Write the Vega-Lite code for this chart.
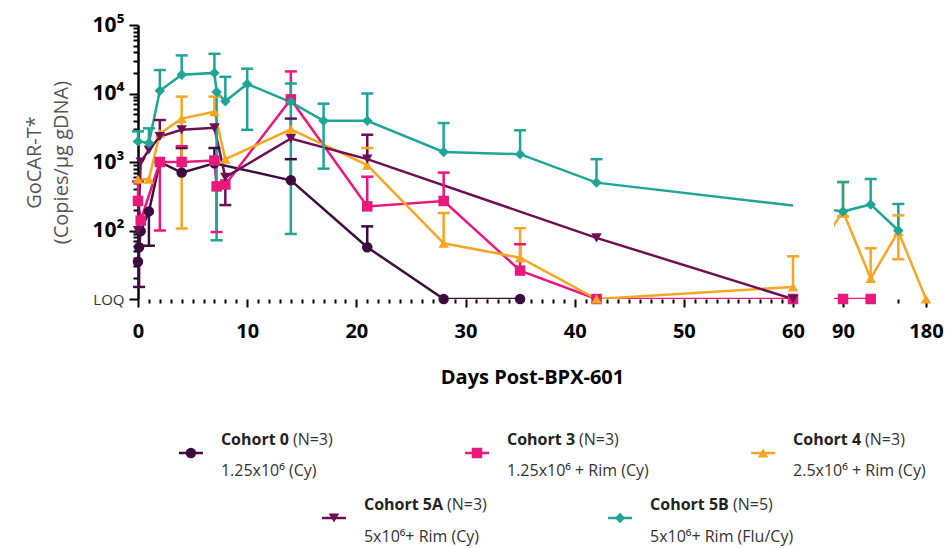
{
  "$schema": "https://vega.github.io/schema/vega-lite/v6.json",
  "padding": {"left": 24, "top": 14, "right": 0, "bottom": 8},
  "background": "white",
  "config": {"font": "Open Sans", "view": {"stroke": null}},
  "datasets": {
    "series": [
      {"cohort": "Cohort 0", "day": 0, "value": 35},
      {"cohort": "Cohort 0", "day": 0.1, "value": 57, "lo": 15, "hi": 95},
      {"cohort": "Cohort 0", "day": 0.25, "value": 98},
      {"cohort": "Cohort 0", "day": 1, "value": 190, "lo": 60},
      {"cohort": "Cohort 0", "day": 2, "value": 1000},
      {"cohort": "Cohort 0", "day": 4, "value": 700, "hi": 1600},
      {"cohort": "Cohort 0", "day": 7, "value": 960, "hi": 1600},
      {"cohort": "Cohort 0", "day": 14, "value": 540, "hi": 1100},
      {"cohort": "Cohort 0", "day": 21, "value": 57, "hi": 115},
      {"cohort": "Cohort 0", "day": 28, "value": 10},
      {"cohort": "Cohort 0", "day": 35, "value": 10},
      {"cohort": "Cohort 3", "day": 0, "value": 270, "hi": 520},
      {"cohort": "Cohort 3", "day": 0.25, "value": 140},
      {"cohort": "Cohort 3", "day": 2, "value": 1000, "lo": 100},
      {"cohort": "Cohort 3", "day": 4, "value": 1000, "hi": 1700},
      {"cohort": "Cohort 3", "day": 7, "value": 1050},
      {"cohort": "Cohort 3", "day": 7.2, "value": 440, "lo": 95},
      {"cohort": "Cohort 3", "day": 8, "value": 470},
      {"cohort": "Cohort 3", "day": 14, "value": 8200, "hi": 21000},
      {"cohort": "Cohort 3", "day": 21, "value": 225, "hi": 610},
      {"cohort": "Cohort 3", "day": 28, "value": 270, "hi": 700},
      {"cohort": "Cohort 3", "day": 35, "value": 26, "hi": 63},
      {"cohort": "Cohort 3", "day": 42, "value": 10},
      {"cohort": "Cohort 3", "day": 60, "value": 10},
      {"cohort": "Cohort 3", "day": 90, "value": 10},
      {"cohort": "Cohort 3", "day": 120, "value": 10},
      {"cohort": "Cohort 4", "day": 0, "value": 560},
      {"cohort": "Cohort 4", "day": 1, "value": 560},
      {"cohort": "Cohort 4", "day": 2, "value": 2600},
      {"cohort": "Cohort 4", "day": 4, "value": 4300, "lo": 107, "hi": 9000},
      {"cohort": "Cohort 4", "day": 7, "value": 5400, "hi": 9000},
      {"cohort": "Cohort 4", "day": 8, "value": 1100},
      {"cohort": "Cohort 4", "day": 14, "value": 3000},
      {"cohort": "Cohort 4", "day": 21, "value": 900, "hi": 1600},
      {"cohort": "Cohort 4", "day": 28, "value": 65, "hi": 180},
      {"cohort": "Cohort 4", "day": 35, "value": 40, "hi": 108},
      {"cohort": "Cohort 4", "day": 42, "value": 10},
      {"cohort": "Cohort 4", "day": 60, "value": 15, "hi": 42},
      {"cohort": "Cohort 4", "day": 90, "value": 190, "lo": 160, "hi": 510},
      {"cohort": "Cohort 4", "day": 120, "value": 20, "hi": 55},
      {"cohort": "Cohort 4", "day": 150, "value": 97, "lo": 38, "hi": 166},
      {"cohort": "Cohort 4", "day": 180, "value": 10},
      {"cohort": "Cohort 5A", "day": 0, "value": 100},
      {"cohort": "Cohort 5A", "day": 0.25, "value": 1000},
      {"cohort": "Cohort 5A", "day": 1, "value": 1500},
      {"cohort": "Cohort 5A", "day": 2, "value": 2350, "hi": 4100},
      {"cohort": "Cohort 5A", "day": 4, "value": 2950},
      {"cohort": "Cohort 5A", "day": 7, "value": 3150},
      {"cohort": "Cohort 5A", "day": 8, "value": 600, "lo": 235},
      {"cohort": "Cohort 5A", "day": 14, "value": 2200, "hi": 4300},
      {"cohort": "Cohort 5A", "day": 21, "value": 1100, "hi": 2500},
      {"cohort": "Cohort 5A", "day": 42, "value": 78},
      {"cohort": "Cohort 5A", "day": 60, "value": 10},
      {"cohort": "Cohort 5B", "day": 0, "value": 2000, "hi": 2800},
      {"cohort": "Cohort 5B", "day": 1, "value": 1900, "hi": 3100},
      {"cohort": "Cohort 5B", "day": 2, "value": 11000, "hi": 22000},
      {"cohort": "Cohort 5B", "day": 4, "value": 18800, "hi": 36000},
      {"cohort": "Cohort 5B", "day": 7, "value": 20000, "hi": 38000},
      {"cohort": "Cohort 5B", "day": 7.2, "value": 10500, "lo": 72},
      {"cohort": "Cohort 5B", "day": 8, "value": 7700, "hi": 17500},
      {"cohort": "Cohort 5B", "day": 10, "value": 13800, "lo": 2950, "hi": 23000},
      {"cohort": "Cohort 5B", "day": 14, "value": 7500, "lo": 89, "hi": 14000},
      {"cohort": "Cohort 5B", "day": 17, "value": 4000, "lo": 800, "hi": 7100},
      {"cohort": "Cohort 5B", "day": 21, "value": 4000, "hi": 10000},
      {"cohort": "Cohort 5B", "day": 28, "value": 1400, "hi": 3700},
      {"cohort": "Cohort 5B", "day": 35, "value": 1300, "hi": 2900},
      {"cohort": "Cohort 5B", "day": 42, "value": 500, "hi": 1100},
      {"cohort": "Cohort 5B", "day": 90, "value": 190, "hi": 510},
      {"cohort": "Cohort 5B", "day": 120, "value": 240, "hi": 565},
      {"cohort": "Cohort 5B", "day": 150, "value": 100, "hi": 244}
    ],
    "legend": [
      {"cohort": "Cohort 0", "n": "(N=3)", "desc": "1.25x10⁶ (Cy)"},
      {"cohort": "Cohort 3", "n": "(N=3)", "desc": "1.25x10⁶ + Rim (Cy)"},
      {"cohort": "Cohort 4", "n": "(N=3)", "desc": "2.5x10⁶ + Rim (Cy)"},
      {"cohort": "Cohort 5A", "n": "(N=3)", "desc": "5x10⁶+ Rim (Cy)"},
      {"cohort": "Cohort 5B", "n": "(N=5)", "desc": "5x10⁶+ Rim (Flu/Cy)"}
    ]
  },
  "spacing": 23,
  "vconcat": [
    {
      "hconcat": [
        {
          "width": 655,
          "height": 274,
          "data": {"name": "series"},
          "encoding": {
            "x": {
              "field": "day", "type": "quantitative",
              "scale": {"domain": [0, 60, 90, 180], "range": [0, 655, 705, 788], "nice": false, "zero": false},
              "axis": {
                "values": [0,1,2,3,4,5,6,7,8,9,10,11,12,13,14,15,16,17,18,19,20,21,22,23,24,25,26,27,28,29,30,31,32,33,34,35,36,37,38,39,40,41,42,43,44,45,46,47,48,49,50,51,52,53,54,55,56,57,58,59,60],
                "labelExpr": "datum.value % 10 == 0 ? datum.label : ''",
                "tickSize": {"condition": {"test": "datum.value % 10 == 0", "value": 8}, "value": 4},
                "domain": false, "grid": false,
                "tickColor": "black", "tickWidth": 2,
                "labelFontSize": 20, "labelFontWeight": "bold", "labelColor": "black",
                "labelPadding": 14, "labelOverlap": false, "labelFlush": false,
                "title": "Days Post-BPX-601", "titleFontSize": 20, "titleFontWeight": "bold",
                "titleColor": "black", "titlePadding": 26
              }
            },
            "color": {"field": "cohort", "type": "nominal", "legend": null,
              "scale": {"domain": ["Cohort 0", "Cohort 3", "Cohort 4", "Cohort 5A", "Cohort 5B"],
                        "range": ["#3d0c3f", "#e8187c", "#f5a623", "#6c0f55", "#1ea596"]}}
          },
          "layer": [
            {
              "mark": {"type": "line", "strokeWidth": 2.5, "clip": true},
              "encoding": {
                "y": {
                  "field": "value", "type": "quantitative",
                  "scale": {"type": "log", "domain": [10, 100000], "nice": false},
                  "axis": {
                    "values": [10,20,30,40,50,60,70,80,90,100,200,300,400,500,600,700,800,900,1000,2000,3000,4000,5000,6000,7000,8000,9000,10000,20000,30000,40000,50000,60000,70000,80000,90000,100000],
                    "labelExpr": "datum.value == 10 ? 'LOQ' : datum.value == 100 ? '10²' : datum.value == 1000 ? '10³' : datum.value == 10000 ? '10⁴' : datum.value == 100000 ? '10⁵' : ''",
                    "tickSize": {"condition": {"test": "indexof([10,100,1000,10000,100000], datum.value) >= 0", "value": 9}, "value": 5},
                    "labelFontSize": {"condition": {"test": "datum.value == 10", "value": 15}, "value": 21},
                    "labelFontWeight": {"condition": {"test": "datum.value == 10", "value": "normal"}, "value": "bold"},
                    "labelColor": {"condition": {"test": "datum.value == 10", "value": "#333333"}, "value": "black"},
                    "labelPadding": 5, "labelOverlap": false, "labelFlush": false,
                    "domainColor": "black", "domainWidth": 2.5, "tickColor": "black", "tickWidth": 2,
                    "grid": false,
                    "title": ["GoCAR-T*", "(Copies/µg gDNA)"],
                    "titleFontSize": 20, "titleFontWeight": "normal", "titleColor": "#555555",
                    "titleLineHeight": 27, "titlePadding": 21
                  }
                }
              }
            },
            {
              "data": {"values": [{}]},
              "mark": {"type": "rule", "strokeDash": [2, 5], "strokeWidth": 2, "color": "#111111"},
              "encoding": {"x": {"datum": 7, "type": "quantitative"}, "color": null}
            },
            {
              "data": {"values": [{}]},
              "mark": {"type": "text", "text": "Rim", "fontWeight": "bold", "fontSize": 19, "dy": -7, "baseline": "middle", "color": "#111111"},
              "encoding": {"x": {"datum": 7, "type": "quantitative"}, "y": {"datum": 100000, "type": "quantitative", "scale": {"type": "log", "domain": [10, 100000], "nice": false}}, "color": null}
            },
            {
              "transform": [{"filter": "isValid(datum.hi) && datum.day <= 60"}],
              "mark": {"type": "rule", "strokeWidth": 2.5},
              "encoding": {
                "y": {"field": "value", "type": "quantitative", "scale": {"type": "log", "domain": [10, 100000], "nice": false}},
                "y2": {"field": "hi"}
              }
            },
            {
              "transform": [{"filter": "isValid(datum.lo) && datum.day <= 60"}],
              "mark": {"type": "rule", "strokeWidth": 2.5},
              "encoding": {
                "y": {"field": "lo", "type": "quantitative", "scale": {"type": "log", "domain": [10, 100000], "nice": false}},
                "y2": {"field": "value"}
              }
            },
            {
              "transform": [{"filter": "isValid(datum.hi) && datum.day <= 60"}],
              "mark": {"type": "tick", "orient": "horizontal", "size": 12, "thickness": 2.5, "opacity": 1},
              "encoding": {"y": {"field": "hi", "type": "quantitative", "scale": {"type": "log", "domain": [10, 100000], "nice": false}}}
            },
            {
              "transform": [{"filter": "isValid(datum.lo) && datum.day <= 60"}],
              "mark": {"type": "tick", "orient": "horizontal", "size": 12, "thickness": 2.5, "opacity": 1},
              "encoding": {"y": {"field": "lo", "type": "quantitative", "scale": {"type": "log", "domain": [10, 100000], "nice": false}}}
            },
            {
              "data": {"values": [{}]},
              "mark": {"type": "rule", "strokeWidth": 2.5, "color": "black"},
              "encoding": {
                "x": {"datum": 0, "type": "quantitative"}, "x2": {"datum": 60},
                "y": {"datum": 10, "type": "quantitative", "scale": {"type": "log", "domain": [10, 100000], "nice": false}},
                "color": null
              }
            },
            {
              "transform": [{"filter": "datum.day <= 60"}],
              "mark": {"type": "point", "filled": true, "size": 110, "opacity": 1},
              "encoding": {
                "y": {"field": "value", "type": "quantitative", "scale": {"type": "log", "domain": [10, 100000], "nice": false}},
                "shape": {"field": "cohort", "type": "nominal", "legend": null,
                  "scale": {"domain": ["Cohort 0", "Cohort 3", "Cohort 4", "Cohort 5A", "Cohort 5B"],
                            "range": ["circle", "square", "triangle-up", "triangle-down", "diamond"]}}
              }
            }
          ]
        },
        {
          "width": 93,
          "height": 274,
          "data": {"name": "series"},
          "encoding": {
            "x": {
              "field": "day", "type": "quantitative",
              "scale": {"domain": [0, 60, 90, 180], "range": [-696, -41, 9, 92], "nice": false, "zero": false},
              "axis": {
                "values": [90, 120, 150, 180],
                "labelExpr": "datum.value == 90 || datum.value == 180 ? datum.label : ''",
                "tickSize": {"condition": {"test": "datum.value == 90 || datum.value == 180", "value": 8}, "value": 4},
                "domain": false, "grid": false,
                "tickColor": "black", "tickWidth": 2,
                "labelFontSize": 20, "labelFontWeight": "bold", "labelColor": "black",
                "labelPadding": 14, "labelOverlap": false, "labelFlush": false,
                "title": null
              }
            },
            "color": {"field": "cohort", "type": "nominal", "legend": null,
              "scale": {"domain": ["Cohort 0", "Cohort 3", "Cohort 4", "Cohort 5A", "Cohort 5B"],
                        "range": ["#3d0c3f", "#e8187c", "#f5a623", "#6c0f55", "#1ea596"]}}
          },
          "layer": [
            {
              "mark": {"type": "line", "strokeWidth": 2.5, "clip": true},
              "encoding": {
                "y": {"field": "value", "type": "quantitative", "scale": {"type": "log", "domain": [10, 100000], "nice": false}, "axis": null}
              }
            },
            {
              "transform": [{"filter": "isValid(datum.hi) && datum.day >= 90"}],
              "mark": {"type": "rule", "strokeWidth": 2.5},
              "encoding": {
                "y": {"field": "value", "type": "quantitative", "scale": {"type": "log", "domain": [10, 100000], "nice": false}, "axis": null},
                "y2": {"field": "hi"}
              }
            },
            {
              "transform": [{"filter": "isValid(datum.lo) && datum.day >= 90"}],
              "mark": {"type": "rule", "strokeWidth": 2.5},
              "encoding": {
                "y": {"field": "lo", "type": "quantitative", "scale": {"type": "log", "domain": [10, 100000], "nice": false}, "axis": null},
                "y2": {"field": "value"}
              }
            },
            {
              "transform": [{"filter": "isValid(datum.hi) && datum.day >= 90"}],
              "mark": {"type": "tick", "orient": "horizontal", "size": 12, "thickness": 2.5, "opacity": 1},
              "encoding": {"y": {"field": "hi", "type": "quantitative", "scale": {"type": "log", "domain": [10, 100000], "nice": false}, "axis": null}}
            },
            {
              "transform": [{"filter": "isValid(datum.lo) && datum.day >= 90"}],
              "mark": {"type": "tick", "orient": "horizontal", "size": 12, "thickness": 2.5, "opacity": 1},
              "encoding": {"y": {"field": "lo", "type": "quantitative", "scale": {"type": "log", "domain": [10, 100000], "nice": false}, "axis": null}}
            },
            {
              "data": {"values": [{}]},
              "mark": {"type": "rule", "strokeWidth": 2.5, "color": "black"},
              "encoding": {
                "x": {"datum": 80, "type": "quantitative"}, "x2": {"datum": 180},
                "y": {"datum": 10, "type": "quantitative", "scale": {"type": "log", "domain": [10, 100000], "nice": false}, "axis": null},
                "color": null
              }
            },
            {
              "transform": [{"filter": "datum.day >= 90"}],
              "mark": {"type": "point", "filled": true, "size": 110, "opacity": 1},
              "encoding": {
                "y": {"field": "value", "type": "quantitative", "scale": {"type": "log", "domain": [10, 100000], "nice": false}, "axis": null},
                "shape": {"field": "cohort", "type": "nominal", "legend": null,
                  "scale": {"domain": ["Cohort 0", "Cohort 3", "Cohort 4", "Cohort 5A", "Cohort 5B"],
                            "range": ["circle", "square", "triangle-up", "triangle-down", "diamond"]}}
              }
            }
          ]
        }
      ],
      "spacing": 41,
      "bounds": "flush",
      "resolve": {"scale": {"x": "independent", "y": "independent", "color": "independent", "shape": "independent"}}
    },
    {
      "width": 678,
      "height": 130,
      "data": {"name": "legend"},
      "encoding": {
        "x": {"field": "cohort", "type": "nominal", "axis": null,
          "scale": {"type": "point", "domain": ["Cohort 0", "Cohort 5A", "Cohort 3", "Cohort 5B", "Cohort 4"], "padding": 0.37}},
        "color": {"field": "cohort", "type": "nominal", "legend": null,
          "scale": {"domain": ["Cohort 0", "Cohort 3", "Cohort 4", "Cohort 5A", "Cohort 5B"],
                    "range": ["#3d0c3f", "#e8187c", "#f5a623", "#6c0f55", "#1ea596"]}}
      },
      "layer": [
        {
          "transform": [{"filter": {"field": "cohort", "oneOf": ["Cohort 0", "Cohort 3", "Cohort 4"]}}],
          "mark": {"type": "point", "shape": "stroke", "size": 576, "strokeWidth": 2.5, "filled": false, "opacity": 1, "yOffset": -22}
        },
        {
          "transform": [{"filter": {"field": "cohort", "oneOf": ["Cohort 0", "Cohort 3", "Cohort 4"]}}],
          "mark": {"type": "point", "filled": true, "size": 110, "opacity": 1, "yOffset": -22},
          "encoding": {"shape": {"field": "cohort", "type": "nominal", "legend": null,
            "scale": {"domain": ["Cohort 0", "Cohort 3", "Cohort 4", "Cohort 5A", "Cohort 5B"],
                      "range": ["circle", "square", "triangle-up", "triangle-down", "diamond"]}}}
        },
        {
          "transform": [{"filter": {"field": "cohort", "oneOf": ["Cohort 0", "Cohort 3", "Cohort 4"]}}],
          "mark": {"type": "text", "align": "left", "baseline": "middle", "dx": 30, "dy": -35, "fontSize": 16, "fontWeight": "bold", "color": "#222222"},
          "encoding": {"text": {"field": "cohort"}, "color": null}
        },
        {
          "transform": [{"filter": {"field": "cohort", "oneOf": ["Cohort 0", "Cohort 3", "Cohort 4"]}}],
          "mark": {"type": "text", "align": "left", "baseline": "middle", "dx": 102, "dy": -35, "fontSize": 16, "color": "#333333"},
          "encoding": {"text": {"field": "n"}, "color": null}
        },
        {
          "transform": [{"filter": {"field": "cohort", "oneOf": ["Cohort 0", "Cohort 3", "Cohort 4"]}}],
          "mark": {"type": "text", "align": "left", "baseline": "middle", "dx": 30, "dy": -4, "fontSize": 16, "color": "#333333"},
          "encoding": {"text": {"field": "desc"}, "color": null}
        },
        {
          "transform": [{"filter": {"field": "cohort", "oneOf": ["Cohort 5A", "Cohort 5B"]}}],
          "mark": {"type": "point", "shape": "stroke", "size": 576, "strokeWidth": 2.5, "filled": false, "opacity": 1, "yOffset": 43}
        },
        {
          "transform": [{"filter": {"field": "cohort", "oneOf": ["Cohort 5A", "Cohort 5B"]}}],
          "mark": {"type": "point", "filled": true, "size": 110, "opacity": 1, "yOffset": 43},
          "encoding": {"shape": {"field": "cohort", "type": "nominal", "legend": null,
            "scale": {"domain": ["Cohort 0", "Cohort 3", "Cohort 4", "Cohort 5A", "Cohort 5B"],
                      "range": ["circle", "square", "triangle-up", "triangle-down", "diamond"]}}}
        },
        {
          "transform": [{"filter": {"field": "cohort", "oneOf": ["Cohort 5A", "Cohort 5B"]}}],
          "mark": {"type": "text", "align": "left", "baseline": "middle", "dx": 30, "dy": 30, "fontSize": 16, "fontWeight": "bold", "color": "#222222"},
          "encoding": {"text": {"field": "cohort"}, "color": null}
        },
        {
          "transform": [{"filter": {"field": "cohort", "oneOf": ["Cohort 5A", "Cohort 5B"]}}],
          "mark": {"type": "text", "align": "left", "baseline": "middle", "dx": 113, "dy": 30, "fontSize": 16, "color": "#333333"},
          "encoding": {"text": {"field": "n"}, "color": null}
        },
        {
          "transform": [{"filter": {"field": "cohort", "oneOf": ["Cohort 5A", "Cohort 5B"]}}],
          "mark": {"type": "text", "align": "left", "baseline": "middle", "dx": 30, "dy": 62, "fontSize": 16, "color": "#333333"},
          "encoding": {"text": {"field": "desc"}, "color": null}
        }
      ]
    }
  ]
}
